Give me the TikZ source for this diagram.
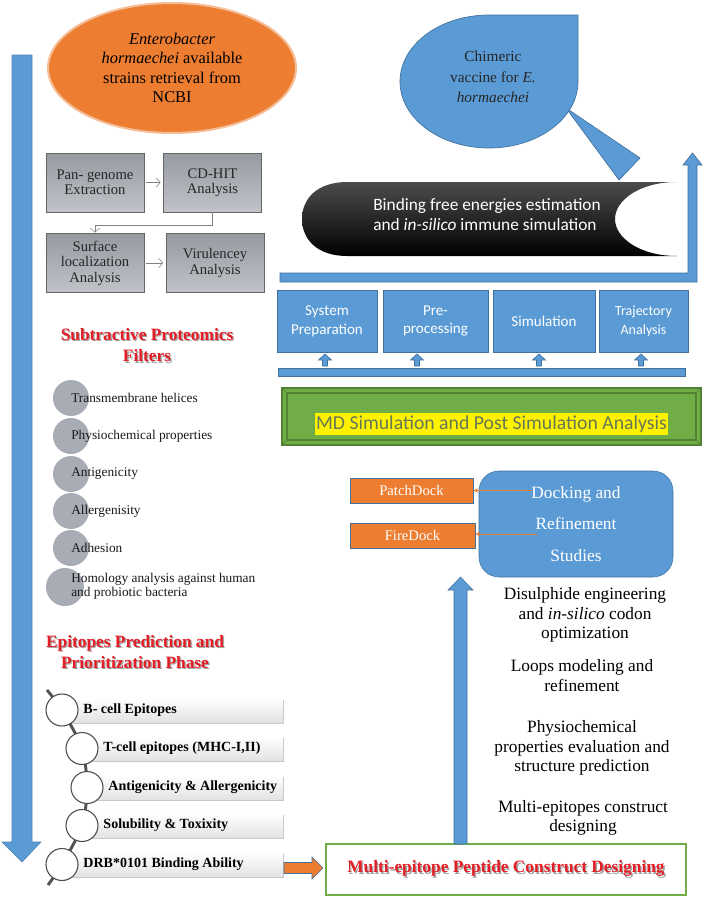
\documentclass[tikz,border=0pt]{standalone}
\usepackage{fontspec}
\setmainfont{Liberation Serif}
\newfontfamily\calibri{Carlito}
\usetikzlibrary{shapes.geometric, arrows.meta, shadows}
\tikzset{>=stealth}

\definecolor{ppblue}{RGB}{91,155,213}
\definecolor{ppblueedge}{RGB}{65,113,156}
\definecolor{pporange}{RGB}{237,125,49}
\definecolor{ppgreen}{RGB}{112,173,71}
\definecolor{ppgreendark}{RGB}{84,130,53}
\definecolor{titlered}{RGB}{228,30,38}
\definecolor{shadowgray}{RGB}{165,165,165}
\definecolor{boxtop}{RGB}{150,154,161}
\definecolor{boxbottom}{RGB}{192,195,200}
\definecolor{dotgray}{RGB}{168,172,180}
\definecolor{mdtext}{RGB}{100,120,85}

\newcommand{\shadowed}[1]{\makebox[0pt][l]{\hspace{1pt}\raisebox{-1pt}{\color{shadowgray}#1}}#1}

\tikzset{
  greybox/.style={draw=gray!80!black, top color=boxtop, bottom color=boxbottom,
    minimum width=73.5pt, minimum height=44.25pt, align=center, inner sep=1pt,
    font=\fontsize{11}{11.6}\selectfont, text=black!85},
  greyarrow/.style={draw=gray, -{Straight Barb[length=3pt,width=7pt]}},
  filterdot/.style={circle, fill=dotgray, minimum size=27pt, inner sep=0pt},
  filtertext/.style={anchor=west, align=left, inner sep=0pt, text=black!90,
    font=\fontsize{10}{10.5}\selectfont},
  epbar/.style={top color=white, bottom color=gray!22, minimum height=18pt,
    inner sep=0pt, anchor=east,
    drop shadow={shadow xshift=1.2pt, shadow yshift=-1.2pt, fill=gray!60, opacity=0.7}},
  epdot/.style={circle, draw=black!70, line width=0.8pt, fill=white,
    minimum size=24pt, inner sep=0pt},
  eptext/.style={anchor=west, inner sep=0pt, xshift=3.5pt,
    font=\bfseries\fontsize{10.5}{12}\selectfont},
  mdbox/.style={draw=ppblueedge, fill=ppblue, text=white, minimum height=46.5pt,
    align=center, inner sep=1pt, font=\calibri\fontsize{11.3}{14}\selectfont},
  bluebar/.style={draw=ppblueedge, fill=ppblue, line width=0.5pt},
  docktag/.style={draw=ppblueedge, fill=pporange, text=white, minimum height=18.75pt,
    font=\fontsize{11}{13}\selectfont},
  steptext/.style={align=center, font=\fontsize{13}{14.6}\selectfont},
  redtitle/.style={align=center, text=titlered, font=\bfseries\fontsize{13}{16}\selectfont},
}

\begin{document}
\begin{tikzpicture}[x=0.75pt, y=-0.75pt]
  \fill[white] (0,0) rectangle (712,903);
  \useasboundingbox (0,0) rectangle (712,903);

  % long arrow on the left
  \filldraw[fill=ppblue, draw=ppblue!85!black, line width=0.4pt]
    (12,55) -- (32,55) -- (32,842) -- (41,842) -- (22,862) -- (2,842) -- (12,842) -- cycle;

  % retrieval and filtering
  \node[ellipse, fill=pporange, draw=pporange!50!white, line width=1.5pt,
    minimum width=186pt, minimum height=97.5pt, inner sep=0pt, align=center,
    font=\fontsize{12.3}{14.6}\selectfont] (strains) at (172,68)
    {\textit{Enterobacter}\\\textit{hormaechei} available\\strains retrieval from\\NCBI};

  \node[greybox] (pangenome) at (95,182.5) {Pan- genome\\Extraction};
  \node[greybox] (cdhit) at (212.5,182.5) {CD-HIT\\Analysis};
  \node[greybox] (surface) at (95,263) {Surface\\localization\\Analysis};
  \node[greybox] (virulence) at (215,263) {Virulencey\\Analysis};
  \draw[greyarrow, shorten <=1pt, shorten >=2pt] (pangenome) -- (cdhit);
  \draw[greyarrow, shorten >=0.5pt] (cdhit.south) -- ++(0,13) -| (surface.north);
  \draw[greyarrow, shorten <=1pt, shorten >=2pt] (surface) -- (virulence);

  \node[redtitle] (filters) at (147,346)
    {\shadowed{Subtractive Proteomics}\\\shadowed{Filters}};

  \foreach \y/\txt [count=\i] in {398/Transmembrane helices, 436/Physiochemical properties,
      474/Antigenicity, 511/Allergenisity, 548/Adhesion} {
    \node[filterdot] (dot\i) at (71,\y) {};
    \node[filtertext] (filter\i) at (dot\i.center) {\txt};
  }
  \node[filterdot, minimum size=28.5pt] (dot6) at (65,587) {};
  \node[filtertext] (filter6) at (71,586) {Homology analysis against human\\and probiotic bacteria};

  % epitope phase
  \node[redtitle] (epititle) at (135,652.5)
    {\shadowed{Epitopes Prediction and}\\\shadowed{Prioritization Phase}};

  \coordinate (chaintop) at (47,690);
  \coordinate (c1) at (62,710);
  \coordinate (c2) at (82,748.5);
  \coordinate (c3) at (87,787.5);
  \coordinate (c4) at (82,825.5);
  \coordinate (c5) at (62,864.5);
  \coordinate (chainend) at (48,885);

  \node[epbar, minimum width=165.75pt] (bar1) at (283,710) {};
  \node[epbar, minimum width=150.75pt] (bar2) at (283,748.5) {};
  \node[epbar, minimum width=147pt] (bar3) at (283,787.5) {};
  \node[epbar, minimum width=150.75pt] (bar4) at (283,825.5) {};
  \node[epbar, minimum width=165.75pt] (bar5) at (283,864.5) {};

  \draw[gray!65!black, line width=2.2pt] plot[smooth]
    coordinates {(chaintop) (c1) (c2) (c3) (c4) (c5) (chainend)};

  \foreach \i/\txt in {1/B- cell Epitopes, 2/{T-cell epitopes (MHC-I,II)},
      3/Antigenicity \& Allergenicity, 4/Solubility \& Toxixity, 5/DRB*0101 Binding Ability} {
    \node[epdot] (ring\i) at (c\i) {};
    \node[eptext] (epi\i) at (ring\i.east) {\txt};
  }

  % construct designing
  \node[draw=ppgreen, line width=0.8pt, fill=white, minimum width=270pt,
    minimum height=38.25pt, redtitle] (construct) at (506,869.5)
    {\shadowed{Multi-epitope Peptide Construct Designing}};
  \filldraw[fill=pporange, draw=ppblueedge, line width=0.4pt]
    (284,862.5) -- (312,862.5) -- (312,857) -- (323,868) -- (312,879) -- (312,873.5)
    -- (284,873.5) -- cycle;
  \filldraw[fill=ppblue, draw=ppblueedge, line width=0.4pt]
    (454,844) -- (454,590) -- (448,590) -- (460.5,577) -- (473,590) -- (467,590)
    -- (467,844) -- cycle;

  \node[steptext] (multisteps) at (583,818) {Multi-epitopes construct\\designing};
  \node[steptext] (physio) at (582,748) {Physiochemical\\properties evaluation and\\structure prediction};
  \node[steptext] (loops) at (582,675.5) {Loops modeling and\\refinement};
  \node[steptext] (disulphide) at (585,615) {Disulphide engineering\\and \textit{in-silico} codon\\optimization};

  % docking
  \node[rounded corners=15pt, draw=ppblueedge, fill=ppblue, text=white, align=center,
    minimum width=145.5pt, minimum height=79.5pt,
    font=\fontsize{13}{23.5}\selectfont] (docking) at (576,524)
    {Docking and\\Refinement\\Studies};
  \node[docktag, minimum width=92.25pt] (patchdock) at (411.5,490.5) {PatchDock};
  \node[docktag, minimum width=93.75pt] (firedock) at (412.5,535.5) {FireDock};
  \coordinate (patchfrom) at (532,490.5);
  \coordinate (firefrom) at (537,534);
  \draw[pporange, line width=0.6pt, ->] (patchfrom) -- (patchdock.east);
  \draw[pporange, line width=0.6pt, ->] (firefrom) -- (firedock.east |- firefrom);

  % MD simulation
  \filldraw[fill=ppgreen, draw=ppgreendark, line width=1pt] (282,388) rectangle (701,445);
  \draw[ppgreendark, line width=0.8pt] (287,393) rectangle (696,440);
  \draw[ppgreendark, line width=0.5pt] (282,388) -- (287,393) (701,388) -- (696,393)
    (282,445) -- (287,440) (701,445) -- (696,440);
  \node[fill=yellow, text=mdtext, inner xsep=0.5pt, inner ysep=2pt,
    font=\calibri\fontsize{14.8}{17}\selectfont] (mdsim) at (491.5,424)
    {MD Simulation and Post Simulation Analysis};

  \filldraw[bluebar] (278,368) rectangle (685,376);
  \foreach \x in {325,417,539,641}
    \filldraw[bluebar] (\x-2.5,366) -- (\x-2.5,360) -- (\x-6.5,360) -- (\x,354)
      -- (\x+6.5,360) -- (\x+2.5,360) -- (\x+2.5,366) -- cycle;

  \node[mdbox, minimum width=75pt] (sysprep) at (327,321) {System\\Preparation};
  \node[mdbox, minimum width=78.75pt] (preproc) at (435.5,321) {Pre-\\processing};
  \node[mdbox, minimum width=76.5pt] (simulation) at (544,321) {Simulation};
  \node[mdbox, minimum width=66.75pt, font=\calibri\fontsize{10.5}{14}\selectfont]
    (trajectory) at (643.5,321) {Trajectory\\Analysis};

  \filldraw[bluebar] (280,273) -- (688,273) -- (688,165) -- (683,165) -- (692.5,153)
    -- (702,165) -- (697,165) -- (697,282) -- (280,282) -- cycle;

  % binding energies banner
  \shade[top color=black!70, middle color=black, bottom color=black]
    (347,182) -- (677,182) .. controls (640,182) and (615,200) .. (615,219)
    .. controls (615,238) and (640,256) .. (677,256) -- (347,256)
    .. controls (318,256) and (302,240) .. (302,219)
    .. controls (302,198) and (318,182) .. (347,182) -- cycle;
  \node[anchor=west, text=white, align=left, inner sep=0pt,
    font=\calibri\fontsize{13}{15}\selectfont] (binding) at (373,215)
    {Binding free energies estimation\\and \textit{in-silico} immune simulation};

  % final vaccine
  \filldraw[fill=ppblue, draw=ppblueedge, line width=0.5pt]
    (566,108) -- (640,158) -- (619,180) -- cycle;
  \filldraw[fill=ppblue, draw=ppblueedge, line width=0.5pt]
    (489,15) -- (578,15) -- (578,81.5) .. controls (578,118.2) and (538.2,148) .. (489,148)
    .. controls (439.8,148) and (400,118.2) .. (400,81.5)
    .. controls (400,44.8) and (439.8,15) .. (489,15) -- cycle;
  \node[align=center, text=black!85, font=\fontsize{11.5}{15.5}\selectfont] (vaccine)
    at (493,77) {Chimeric\\vaccine for \textit{E.}\\\textit{hormaechei}};
\end{tikzpicture}
\end{document}
